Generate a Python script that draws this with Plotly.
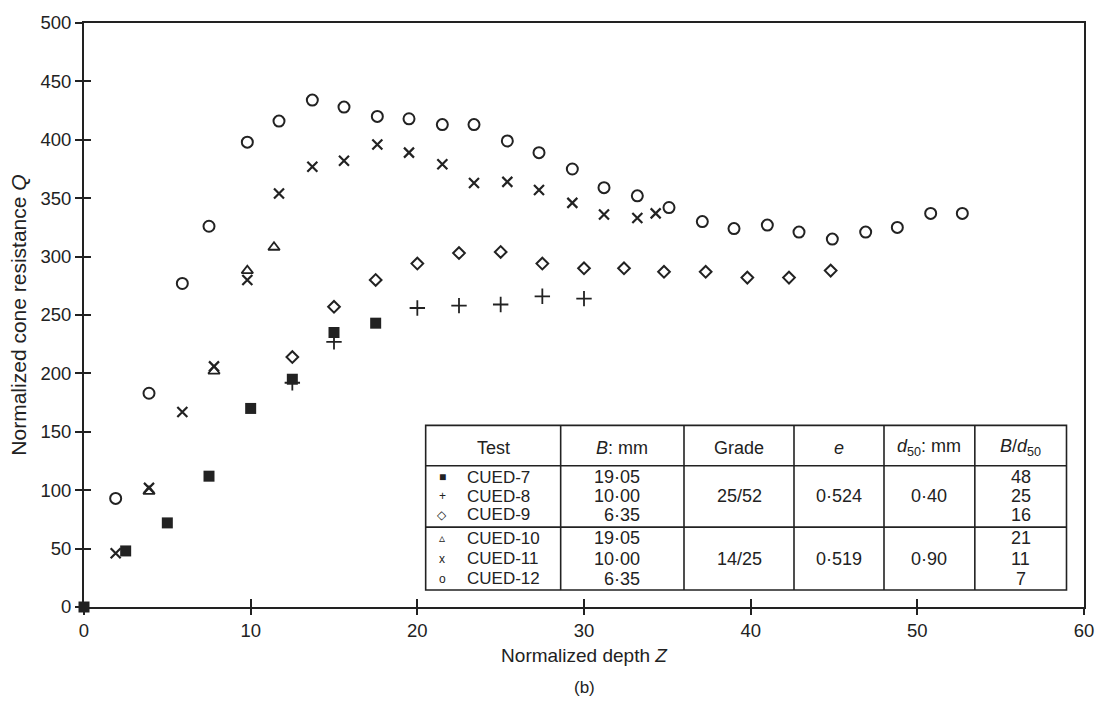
import plotly.graph_objects as go

# ---------------- data ----------------
cued7_z = [0, 2.5, 5.0, 7.5, 10.0, 12.5, 15.0, 17.5]
cued7_q = [0, 48, 72, 112, 170, 195, 235, 243]

cued8_z = [12.5, 15.0, 20.0, 22.5, 25.0, 27.5, 30.0]
cued8_q = [192, 227, 256, 258, 259, 266, 264]

cued9_z = [12.5, 15.0, 17.5, 20.0, 22.5, 25.0, 27.5, 30.0, 32.4, 34.8, 37.3, 39.8, 42.3, 44.8]
cued9_q = [214, 257, 280, 294, 303, 304, 294, 290, 290, 287, 287, 282, 282, 288]

cued10_z = [3.9, 7.8, 9.8, 11.4]
cued10_q = [99, 202, 288, 308]

cued11_z = [1.9, 3.9, 5.9, 7.8, 9.8, 11.7, 13.7, 15.6, 17.6, 19.5, 21.5, 23.4, 25.4,
            27.3, 29.3, 31.2, 33.2, 34.3]
cued11_q = [46, 102, 167, 206, 280, 354, 377, 382, 396, 389, 379, 363, 364,
            357, 346, 336, 333, 337]

cued12_z = [1.9, 3.9, 5.9, 7.5, 9.8, 11.7, 13.7, 15.6, 17.6, 19.5, 21.5, 23.4, 25.4,
            27.3, 29.3, 31.2, 33.2, 35.1, 37.1, 39.0, 41.0, 42.9, 44.9, 46.9, 48.8,
            50.8, 52.7]
cued12_q = [93, 183, 277, 326, 398, 416, 434, 428, 420, 418, 413, 413, 399,
            389, 375, 359, 352, 342, 330, 324, 327, 321, 315, 321, 325,
            337, 337]

x_ticks = [0, 10, 20, 30, 40, 50, 60]
y_ticks = [0, 50, 100, 150, 200, 250, 300, 350, 400, 450, 500]

# table content
table_header = ["Test", "<i>B</i>: mm", "Grade", "<i>e</i>", "<i>d</i><sub>50</sub>: mm",
                "<i>B</i>/<i>d</i><sub>50</sub>"]
test_names = ["CUED-7", "CUED-8", "CUED-9", "CUED-10", "CUED-11", "CUED-12"]
test_symbols = ["■", "+", "◇", "▵", "x", "o"]
b_mm = ["19·05", "10·00", "6·35", "19·05", "10·00", "6·35"]
grades = ["25/52", "14/25"]
voids = ["0·524", "0·519"]
d50s = ["0·40", "0·90"]
b_over_d50 = ["48", "25", "16", "21", "11", "7"]

INK = "#222222"
FONT = "Liberation Sans, Arial, sans-serif"

fig = go.Figure()

def add_series(z, q, symbol, size, lw, name):
    fig.add_trace(go.Scatter(
        x=z, y=q, mode="markers", name=name, cliponaxis=False,
        marker=dict(symbol=symbol, size=size, color=INK,
                    line=dict(color=INK, width=lw)),
        showlegend=False))

add_series(cued9_z, cued9_q, "diamond-open", 9, 2, "CUED-9")
add_series(cued8_z, cued8_q, "cross-thin-open", 11, 1.8, "CUED-8")
add_series(cued10_z, cued10_q, "triangle-up-open", 10, 1.8, "CUED-10")
add_series(cued11_z, cued11_q, "x-thin-open", 10, 2.2, "CUED-11")
add_series(cued12_z, cued12_q, "circle-open", 11, 2, "CUED-12")
add_series(cued7_z, cued7_q, "square", 11, 0, "CUED-7")

# invisible trace so that the overlay axes (inner half of the crossing ticks) exist
fig.add_trace(go.Scatter(x=[0], y=[0], xaxis="x2", yaxis="y2", mode="markers",
                         marker=dict(opacity=0), showlegend=False, hoverinfo="skip"))

# ---------------- table (data coordinates) ----------------
col_edges = [20.5, 28.6, 36.0, 42.6, 48.0, 53.45, 58.95]
row_top, row_head, row_mid, row_bot = 155.5, 120.9, 68.4, 14.5
row_y = [111.0, 94.7, 78.9, 59.0, 41.4, 24.4]
head_y = 136.4
group_y = [(row_head + row_mid) / 2, (row_mid + row_bot) / 2]

line_style = dict(color=INK, width=1.6)
fig.add_shape(type="rect", x0=col_edges[0], x1=col_edges[-1], y0=row_bot, y1=row_top,
              xref="x", yref="y", line=line_style, fillcolor="white", layer="below")
for yy in (row_head, row_mid):
    fig.add_shape(type="line", x0=col_edges[0], x1=col_edges[-1], y0=yy, y1=yy,
                  xref="x", yref="y", line=line_style)
for xx in col_edges[1:-1]:
    fig.add_shape(type="line", x0=xx, x1=xx, y0=row_bot, y1=row_top,
                  xref="x", yref="y", line=line_style)

TF = dict(family=FONT, size=18, color=INK)

def txt(x, y, s, xanchor="center", size=None):
    f = dict(TF)
    if size:
        f["size"] = size
    fig.add_annotation(x=x, y=y, text=s, xref="x", yref="y", showarrow=False,
                       xanchor=xanchor, yanchor="middle", font=f)

for i, h in enumerate(table_header):
    txt((col_edges[i] + col_edges[i + 1]) / 2, head_y, h)

for i in range(6):
    txt(21.5, row_y[i], test_symbols[i], size=12)
    txt(22.85, row_y[i], test_names[i], xanchor="left", size=17)
    txt(33.5, row_y[i], b_mm[i], xanchor="right")
    txt((col_edges[5] + col_edges[6]) / 2, row_y[i], b_over_d50[i])

for g in range(2):
    txt((col_edges[2] + col_edges[3]) / 2, group_y[g], grades[g])
    txt((col_edges[3] + col_edges[4]) / 2, group_y[g], voids[g])
    txt((col_edges[4] + col_edges[5]) / 2, group_y[g], d50s[g])

fig.add_annotation(x=0.5, y=-0.138, xref="paper", yref="paper", text="(b)",
                   showarrow=False, xanchor="center", yanchor="middle",
                   font=dict(family=FONT, size=17, color=INK))

axis_common = dict(showgrid=False, zeroline=False, color=INK,
                   tickfont=dict(family=FONT, size=18.5, color=INK))

fig.update_layout(
    width=1106, height=702,
    margin=dict(l=84, r=14, t=20, b=95),
    paper_bgcolor="white", plot_bgcolor="white",
    font=dict(family=FONT, color=INK),
    xaxis=dict(range=[0, 60], tickvals=x_ticks, ticks="outside", ticklen=6, tickwidth=1.6,
               tickcolor=INK, showline=True, linewidth=2, linecolor=INK, mirror=True,
               title=dict(text="Normalized depth <i>Z</i>", standoff=8,
                          font=dict(family=FONT, size=19, color=INK)),
               **axis_common),
    yaxis=dict(range=[0, 500], tickvals=y_ticks, ticks="outside", ticklen=7, tickwidth=1.6,
               tickcolor=INK, showline=True, linewidth=2, linecolor=INK, mirror=True,
               title=dict(text="Normalized cone resistance <i>Q</i>", standoff=8,
                          font=dict(family=FONT, size=21, color=INK)),
               **axis_common),
    xaxis2=dict(range=[0, 60], overlaying="x", anchor="y2", side="bottom",
                tickvals=x_ticks, ticks="inside", ticklen=8, tickwidth=1.6, tickcolor=INK,
                showticklabels=False, showline=False, showgrid=False, zeroline=False),
    yaxis2=dict(range=[0, 500], overlaying="y", anchor="x2", side="left",
                tickvals=y_ticks, ticks="inside", ticklen=7, tickwidth=1.6, tickcolor=INK,
                showticklabels=False, showline=False, showgrid=False, zeroline=False),
)

fig.write_html("out.html")
